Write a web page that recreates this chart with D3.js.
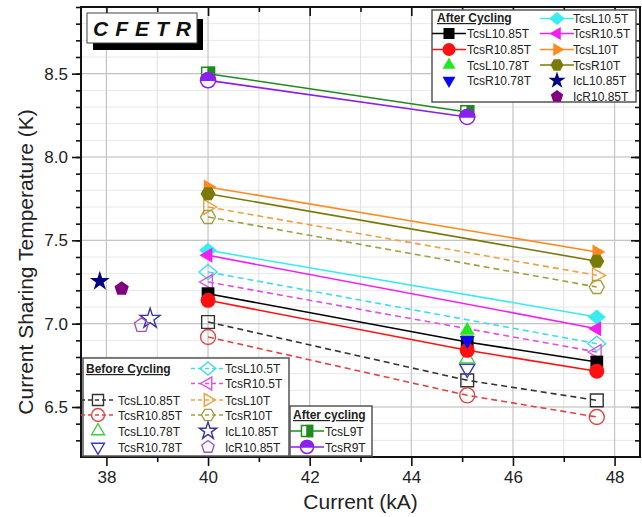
<!DOCTYPE html>
<html lang="en">
<head>
<meta charset="UTF-8">
<title>CFETR current sharing temperature</title>
<script src="https://d3js.org/d3.v7.min.js"></script>
<style>
    body { margin: 0; background: #fff; font-family: Arial, "Liberation Sans", sans-serif; }
    svg text { font-family: Arial, "Liberation Sans", sans-serif; }
</style>
</head>
<body>
<svg id="chart" width="642" height="517"></svg>
<script>
// ---- data ----
const xTicks = [38, 40, 42, 44, 46, 48];
const yTicks = [6.5, 7.0, 7.5, 8.0, 8.5];

const cur3 = [40, 45.1, 47.65];   // kA
const cur2 = [40, 47.65];
const cur9 = [40, 45.1];
const cur78 = [45.1];

// after cycling (filled, solid)
const aTcsL1085 = [7.18, 6.89, 6.77];
const aTcsR1085 = [7.14, 6.84, 6.715];
const aTcsL1078 = [6.96];
const aTcsR1078 = [6.90];
const aTcsL105 = [7.44, 7.04];
const aTcsR105 = [7.41, 6.97];
const aTcsL10 = [7.82, 7.43];
const aTcsR10 = [7.78, 7.375];
const aIcL1085 = { x: [37.87], y: [7.255] };
const aIcR1085 = { x: [38.3], y: [7.21] };
const aTcsL9 = [8.50, 8.27];
const aTcsR9 = [8.46, 8.24];

// before cycling (open, dashed)
const bTcsL1085 = [7.01, 6.66, 6.54];
const bTcsR1085 = [6.92, 6.57, 6.44];
const bTcsL1078 = [6.79];
const bTcsR1078 = [6.73];
const bTcsL105 = [7.31, 6.88];
const bTcsR105 = [7.25, 6.83];
const bTcsL10 = [7.70, 7.29];
const bTcsR10 = [7.64, 7.22];
const bIcL1085 = { x: [38.86], y: [7.03] };
const bIcR1085 = { x: [38.69], y: [6.99] };

function pts(xs, ys) { return xs.map((x, i) => [x, ys[i]]); }

// name, points, shape, colour, line?
const before = [
    { name: "TcsL10.85T", p: pts(cur3, bTcsL1085), shape: "square", c: "#333333", line: true },
    { name: "TcsR10.85T", p: pts(cur3, bTcsR1085), shape: "circle", c: "#e04545", line: true },
    { name: "TcsL10.78T", p: pts(cur78, bTcsL1078), shape: "triUp", c: "#44cc44", line: false },
    { name: "TcsR10.78T", p: pts(cur78, bTcsR1078), shape: "triDown", c: "#3a3acc", line: false },
    { name: "TcsL10.5T", p: pts(cur2, bTcsL105), shape: "diamond", c: "#3fdde8", line: true },
    { name: "TcsR10.5T", p: pts(cur2, bTcsR105), shape: "triLeft", c: "#e050e0", line: true },
    { name: "TcsL10T", p: pts(cur2, bTcsL10), shape: "triRight", c: "#f0a040", line: true },
    { name: "TcsR10T", p: pts(cur2, bTcsR10), shape: "hexagon", c: "#a0a040", line: true },
    { name: "IcL10.85T", p: pts(bIcL1085.x, bIcL1085.y), shape: "star", c: "#3535a5", line: false },
    { name: "IcR10.85T", p: pts(bIcR1085.x, bIcR1085.y), shape: "pentagon", c: "#a455b8", line: false }
];
const after = [
    { name: "TcsL10.85T", p: pts(cur3, aTcsL1085), shape: "square", c: "#000000", line: true },
    { name: "TcsR10.85T", p: pts(cur3, aTcsR1085), shape: "circle", c: "#ff1010", line: true },
    { name: "TcsL10.78T", p: pts(cur78, aTcsL1078), shape: "triUp", c: "#22e822", line: false },
    { name: "TcsR10.78T", p: pts(cur78, aTcsR1078), shape: "triDown", c: "#0a0aee", line: false },
    { name: "TcsL10.5T", p: pts(cur2, aTcsL105), shape: "diamond", c: "#38ecf2", line: true },
    { name: "TcsR10.5T", p: pts(cur2, aTcsR105), shape: "triLeft", c: "#f020f0", line: true },
    { name: "TcsL10T", p: pts(cur2, aTcsL10), shape: "triRight", c: "#ff8a1e", line: true },
    { name: "TcsR10T", p: pts(cur2, aTcsR10), shape: "hexagon", c: "#7a7a08", line: true },
    { name: "IcL10.85T", p: pts(aIcL1085.x, aIcL1085.y), shape: "star", c: "#000080", line: false },
    { name: "IcR10.85T", p: pts(aIcR1085.x, aIcR1085.y), shape: "pentagon", c: "#800080", line: false }
];
const after9 = [
    { name: "TcsL9T", p: pts(cur9, aTcsL9), shape: "halfSquare", c: "#1f8a1f", line: true },
    { name: "TcsR9T", p: pts(cur9, aTcsR9), shape: "halfCircle", c: "#8a20ee", line: true }
];

// ---- layout ----
const L = 81, R = 640, T = 7, B = 457;
const svg = d3.select("#chart");

const x = d3.scaleLinear().domain([37.5, 48.5]).range([L, R]);
const y = d3.scaleLinear().domain([6.2, 8.9]).range([B, T]);

// grid
const g = svg.append("g");
g.selectAll(".gyMinor").data(d3.range(6.3, 8.9, 0.1)).enter().append("line")
    .attr("x1", L).attr("x2", R).attr("y1", d => y(d)).attr("y2", d => y(d))
    .attr("stroke", "#e8e8e8").attr("stroke-width", 1);
g.selectAll(".gxMinor").data(d3.range(39, 48.5, 2)).enter().append("line")
    .attr("y1", T).attr("y2", B).attr("x1", d => x(d)).attr("x2", d => x(d))
    .attr("stroke", "#e0e0e0").attr("stroke-width", 1);
g.selectAll(".gy").data(yTicks).enter().append("line")
    .attr("x1", L).attr("x2", R).attr("y1", d => y(d)).attr("y2", d => y(d))
    .attr("stroke", "#c4c4c4").attr("stroke-width", 1.2);
g.selectAll(".gx").data(xTicks).enter().append("line")
    .attr("y1", T).attr("y2", B).attr("x1", d => x(d)).attr("x2", d => x(d))
    .attr("stroke", "#c4c4c4").attr("stroke-width", 1.2);

// marker shapes
function poly(n, r, start) {
    const a = d3.range(n).map(i => {
        const t = (start + i * 360 / n) * Math.PI / 180;
        return [r * Math.cos(t), r * Math.sin(t)];
    });
    return "M" + a.map(p => p[0].toFixed(2) + "," + p[1].toFixed(2)).join("L") + "Z";
}
function shapeD(shape, r) {
    switch (shape) {
        case "square": case "halfSquare": return `M${-r * 0.85},${-r * 0.85}H${r * 0.85}V${r * 0.85}H${-r * 0.85}Z`;
        case "circle": case "halfCircle": return d3.symbol(d3.symbolCircle, Math.PI * r * r)();
        case "triUp": return poly(3, r * 1.15, -90);
        case "triDown": return poly(3, r * 1.15, 90);
        case "triLeft": return poly(3, r * 1.15, 180);
        case "triRight": return poly(3, r * 1.15, 0);
        case "diamond": return `M0,${-r}L${r * 1.2},0L0,${r}L${-r * 1.2},0Z`;
        case "hexagon": return poly(6, r, 0);
        case "pentagon": return poly(5, r, -90);
        case "star": return d3.symbol(d3.symbolStar, r * r * 2.2)();
    }
}
function halfD(shape, r) {
    if (shape === "halfSquare") return `M0,${-r * 0.85}H${r * 0.85}V${r * 0.85}H0Z`;
    return `M${-r},0A${r},${r} 0 0 1 ${r},0Z`;
}
function drawMarker(sel, s, filled, r) {
    if (s.shape === "halfSquare" || s.shape === "halfCircle") {
        sel.append("path").attr("d", shapeD(s.shape, r)).attr("fill", "#fff")
            .attr("stroke", s.c).attr("stroke-width", 1.5);
        sel.append("path").attr("d", halfD(s.shape, r)).attr("fill", s.c)
            .attr("stroke", s.c).attr("stroke-width", 1.5);
    } else if (filled) {
        sel.append("path").attr("d", shapeD(s.shape, r)).attr("fill", s.c);
    } else {
        sel.append("path").attr("d", shapeD(s.shape, r)).attr("fill", "none")
            .attr("stroke", s.c).attr("stroke-width", 1.4);
    }
}

const lineGen = d3.line().x(d => x(d[0])).y(d => y(d[1]));
function drawSeries(list, filled, dashed) {
    list.forEach(s => {
        if (s.line) {
            svg.append("path").attr("d", lineGen(s.p)).attr("fill", "none")
                .attr("stroke", s.c).attr("stroke-width", 1.6)
                .attr("stroke-dasharray", dashed ? "6,4" : null);
        }
    });
    list.forEach(s => {
        svg.append("g").selectAll("g").data(s.p).enter().append("g")
            .attr("transform", d => `translate(${x(d[0])},${y(d[1])})`)
            .each(function () { drawMarker(d3.select(this), s, filled, 7.5); });
    });
}
drawSeries(before, false, true);
drawSeries(after, true, false);
drawSeries(after9, true, false);

// axes
const fmt = d3.format(".1f");
svg.append("g").attr("transform", `translate(${L},0)`)
    .call(d3.axisLeft(y).tickValues(d3.range(6.3, 8.9, 0.1)).tickSize(5).tickFormat(""));
svg.append("g").attr("transform", `translate(${L},0)`)
    .call(d3.axisLeft(y).tickValues(yTicks).tickSize(9).tickPadding(4).tickFormat(fmt));
svg.append("g").attr("transform", `translate(0,${B})`)
    .call(d3.axisBottom(x).tickValues(d3.range(39, 48.5, 2)).tickSize(5).tickFormat(""));
svg.append("g").attr("transform", `translate(0,${B})`)
    .call(d3.axisBottom(x).tickValues(xTicks).tickSize(9).tickPadding(5));
svg.append("g").attr("transform", `translate(0,${T})`)
    .call(d3.axisBottom(x).tickValues(xTicks).tickSize(9).tickFormat(""));
svg.append("g").attr("transform", `translate(0,${T})`)
    .call(d3.axisBottom(x).tickValues(d3.range(39, 48.5, 2)).tickSize(5).tickFormat(""));
svg.append("g").attr("transform", `translate(${R},0)`)
    .call(d3.axisLeft(y).tickValues(yTicks).tickSize(9).tickFormat(""));
svg.append("g").attr("transform", `translate(${R},0)`)
    .call(d3.axisLeft(y).tickValues(d3.range(6.3, 8.9, 0.1)).tickSize(5).tickFormat(""));
svg.selectAll(".tick line").attr("stroke", "#111").attr("stroke-width", 1.6);
svg.selectAll(".domain").remove();
svg.selectAll(".tick text").attr("font-size", 17).attr("fill", "#222");

svg.append("rect").attr("x", L).attr("y", T).attr("width", R - L).attr("height", B - T)
    .attr("fill", "none").attr("stroke", "#111").attr("stroke-width", 2);

// axis titles
svg.append("text").attr("x", (L + R) / 2).attr("y", 509).attr("text-anchor", "middle")
    .attr("font-size", 21).attr("fill", "#222").text("Current (kA)");
svg.append("text").attr("transform", "translate(33,262) rotate(-90)").attr("text-anchor", "middle")
    .attr("font-size", 21).attr("fill", "#222").text("Current Sharing Temperature (K)");

// CFETR tag
svg.append("rect").attr("x", 93).attr("y", 19).attr("width", 110).attr("height", 31).attr("fill", "#000");
svg.append("rect").attr("x", 87).attr("y", 13).attr("width", 110).attr("height", 30)
    .attr("fill", "#fff").attr("stroke", "#444").attr("stroke-width", 1);
svg.append("text").attr("x", 93).attr("y", 36).attr("font-size", 21).attr("font-weight", "bold")
    .attr("font-style", "italic").attr("letter-spacing", 7).attr("fill", "#111").text("CFETR");

// legends
function legendBox(x0, y0, w, h, title, tx, ty) {
    svg.append("rect").attr("x", x0).attr("y", y0).attr("width", w).attr("height", h)
        .attr("fill", "#fff").attr("stroke", "#555").attr("stroke-width", 1.5);
    svg.append("text").attr("x", tx).attr("y", ty).attr("font-size", 12).attr("font-weight", "bold")
        .attr("text-decoration", "underline").attr("fill", "#222").text(title);
}
function legendItem(s, mx, tx, cy, filled, dashed) {
    if (s.line) {
        svg.append("line").attr("x1", mx - 17).attr("x2", mx + 17).attr("y1", cy).attr("y2", cy)
            .attr("stroke", s.c).attr("stroke-width", 1.6).attr("stroke-dasharray", dashed ? "4,3" : null);
    }
    const m = svg.append("g").attr("transform", `translate(${mx},${cy})`);
    drawMarker(m, s, filled, 6.5);
    svg.append("text").attr("x", tx).attr("y", cy + 4.5).attr("font-size", 12).attr("fill", "#222").text(s.name);
}

// after cycling (top right)
legendBox(432, 10, 204, 92, "After Cycling", 437, 22);
const aRows1 = [33.5, 49.5, 65, 80.5];
const aRows2 = [18.5, 33.5, 49.5, 65, 80.5, 96.5];
after.slice(0, 4).forEach((s, i) => legendItem(s, 449, 467, aRows1[i], true, false));
after.slice(4).forEach((s, i) => legendItem(s, 557, 573, aRows2[i], true, false));

// before cycling (bottom left)
legendBox(83, 358, 206, 98, "Before Cycling", 86, 373);
const bRows1 = [383.5, 400, 415, 431];
const bRows2 = [368.5, 383.5, 400, 415, 431, 447];
before.slice(0, 4).forEach((s, i) => legendItem(s, 98, 118, [400, 415, 431, 447][i], false, true));
before.slice(4).forEach((s, i) => legendItem(s, 208, 225, bRows2[i], false, true));

// after cycling 9T
legendBox(290, 406, 82, 50, "After cycling", 293, 419);
after9.forEach((s, i) => legendItem(s, 307, 325, [431, 447][i], true, false));
</script>
</body>
</html>
